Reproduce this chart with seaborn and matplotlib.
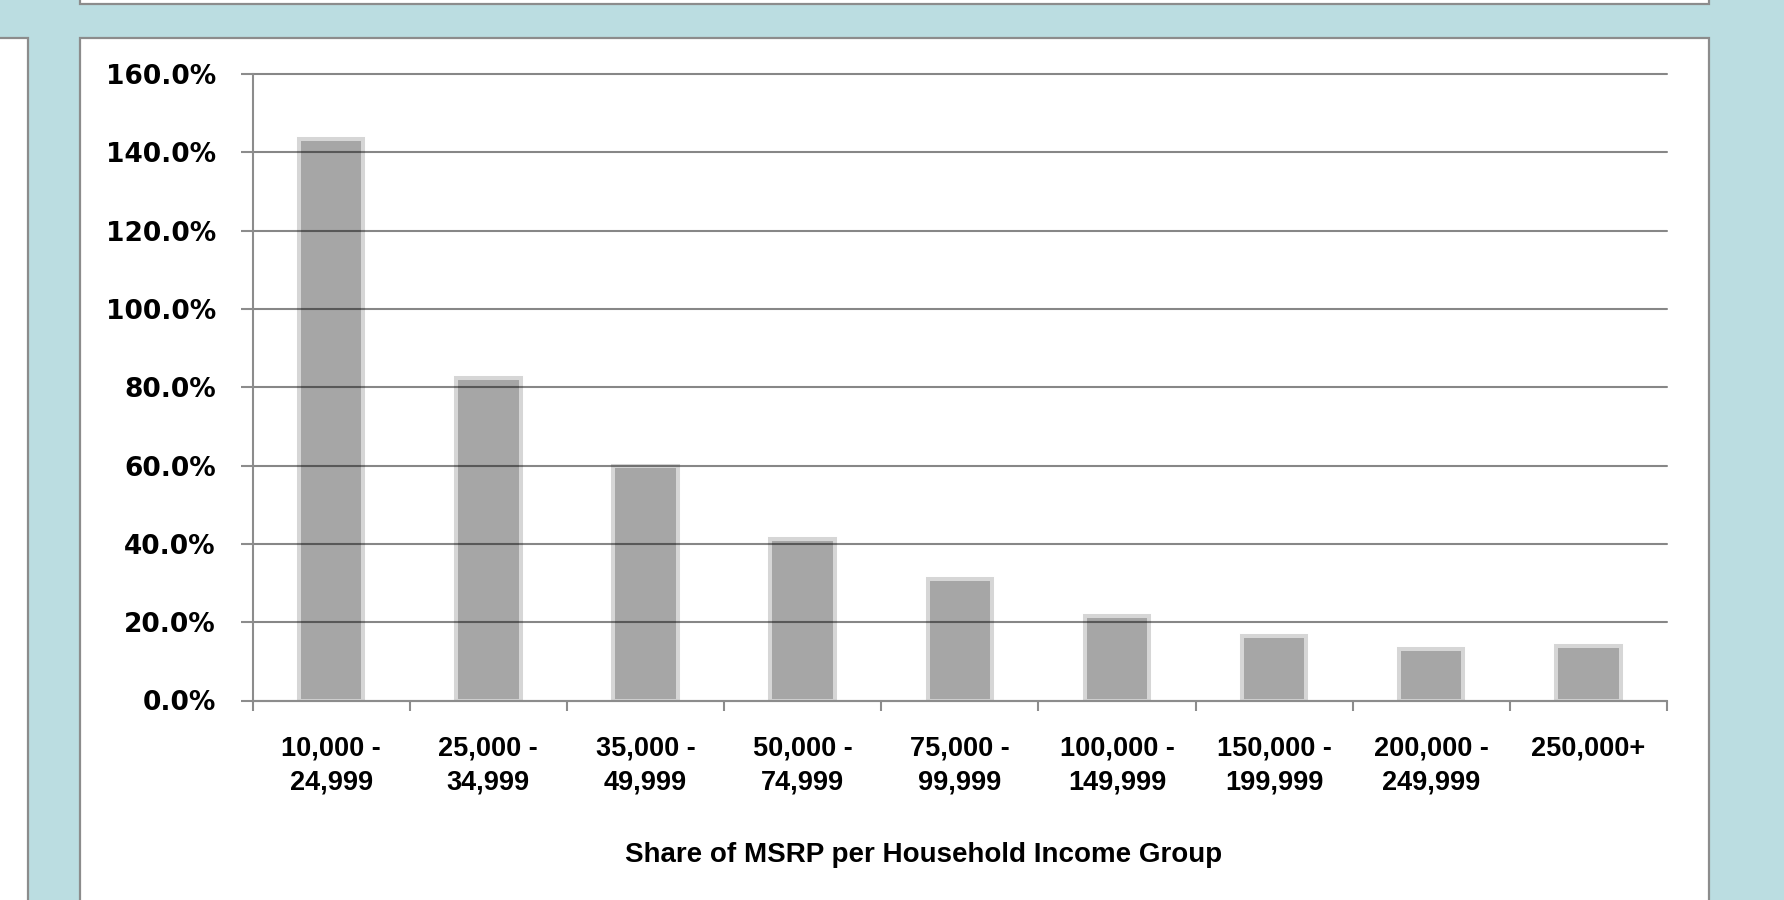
import matplotlib
matplotlib.use("Agg")
import matplotlib.pyplot as plt
import matplotlib.patches as mpatches
from matplotlib.ticker import FixedLocator, FuncFormatter
import seaborn as sns
import pandas as pd

# ---- data ----
categories = ["10,000 -\n24,999", "25,000 -\n34,999", "35,000 -\n49,999",
              "50,000 -\n74,999", "75,000 -\n99,999", "100,000 -\n149,999",
              "150,000 -\n199,999", "200,000 -\n249,999", "250,000+\n"]
share_pct = [143.5, 82.3, 59.8, 41.3, 31.0, 21.5, 16.4, 13.2, 13.8]
y_ticks = [0, 20, 40, 60, 80, 100, 120, 140, 160]
x_title = "Share of MSRP per Household Income Group"

df = pd.DataFrame({"group": categories, "share": share_pct})

sns.set_theme(style="white")
W, H = 1784, 900
fig = plt.figure(figsize=(W / 100, H / 100), dpi=100)
bg = "#BBDDE1"
fig.patch.set_facecolor(bg)
border = "#8C8C8C"

def fx(px):
    return px / W

def fy(py):
    return 1 - py / H

# decorative panels (behind the axes)
for rect in [((fx(80), fy(4)), fx(1709) - fx(80), 0.05),
             ((-0.01, -0.01), fx(28) + 0.01, fy(38) + 0.01),
             ((fx(80), -0.01), fx(1709) - fx(80), fy(38) + 0.01)]:
    fig.patches.append(mpatches.Rectangle(rect[0], rect[1], rect[2],
                                          transform=fig.transFigure, facecolor="white",
                                          edgecolor=border, linewidth=1.6, zorder=-5))

ax_l, ax_r, ax_b, ax_t = 252.6, 1667.0, 700.5, 74.0
ax = fig.add_axes([fx(ax_l), fy(ax_b), fx(ax_r) - fx(ax_l), fy(ax_t) - fy(ax_b)])
ax.set_zorder(1)
ax.set_facecolor("none")

sns.barplot(data=df, x="group", y="share", color="#A6A6A6", saturation=1,
            width=0.41, edgecolor="#D6D6D6", linewidth=2.9, ax=ax, zorder=2)

ax.set_ylim(0, 160)
ax.set_xlim(-0.5, len(categories) - 0.5)

# gridlines above bars (semi-transparent, darker over bars)
ax.set_axisbelow(False)
ax.yaxis.grid(True, color="black", alpha=0.47, linewidth=1.5, zorder=3)
ax.xaxis.grid(False)
for gl in ax.get_ygridlines():
    gl.set_clip_on(False)

for s in ["top", "right"]:
    ax.spines[s].set_visible(False)
for s in ["left", "bottom"]:
    ax.spines[s].set_color(border)
    ax.spines[s].set_linewidth(1.5)
    ax.spines[s].set_zorder(4)

# y ticks
ax.yaxis.set_major_locator(FixedLocator(y_ticks))
ax.yaxis.set_major_formatter(FuncFormatter(lambda v, p: f"{v:.1f}%"))
ax.tick_params(axis="y", which="major", direction="out", length=8.5, width=1.5,
               color=border, pad=18, left=True)
for lab in ax.get_yticklabels():
    lab.set_fontfamily(["DejaVu Sans"])
    lab.set_fontweight("bold")
    lab.set_fontsize(19)
    lab.set_color("black")
for gl in ax.get_ygridlines():
    gl.set_clip_on(False)

# x ticks: marks at category boundaries, labels at centres
n = len(categories)
ax.set_xticks([i - 0.5 for i in range(n + 1)])
ax.set_xticklabels([""] * (n + 1))
ax.set_xticks(list(range(n)), minor=True)
ax.set_xticklabels(categories, minor=True)
ax.tick_params(axis="x", which="major", direction="out", length=7.5, width=1.5,
               color=border, bottom=True)
ax.tick_params(axis="x", which="minor", length=0, pad=25, bottom=True)
xfont = ["Liberation Sans Narrow", "Liberation Sans", "DejaVu Sans"]
for lab in ax.get_xticklabels(minor=True):
    lab.set_fontfamily(xfont)
    lab.set_fontweight("bold")
    lab.set_fontsize(19.5)
    lab.set_color("black")
    lab.set_linespacing(1.4)

ax.set_xlabel(x_title, fontsize=20, fontweight="bold", family=xfont, color="black")
ax.xaxis.set_label_coords((924 - ax_l) / (ax_r - ax_l), (ax_b - 855) / (ax_b - ax_t))
ax.xaxis.label.set_verticalalignment("center")
ax.set_ylabel("")

fig.savefig("out.png", dpi=100, facecolor=fig.get_facecolor())
